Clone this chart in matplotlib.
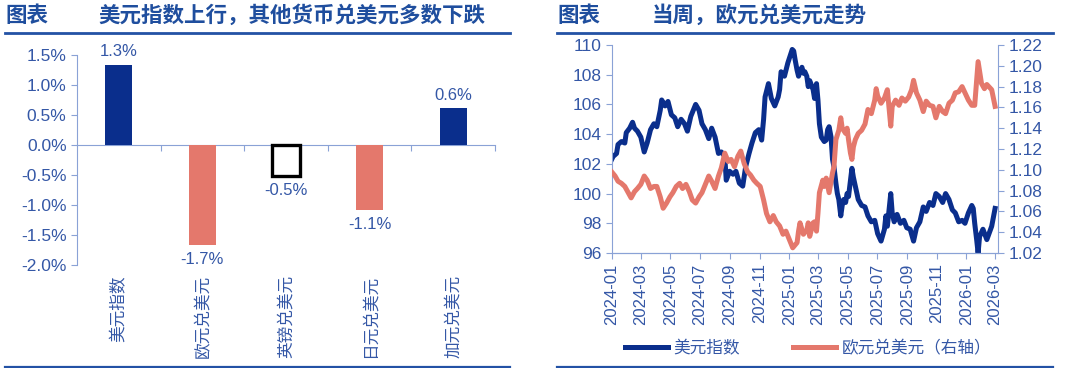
import matplotlib
matplotlib.use("Agg")
import matplotlib.pyplot as plt
import matplotlib.dates as mdates
from matplotlib.lines import Line2D
import numpy as np
import pandas as pd

plt.rcParams['font.family'] = ['Liberation Sans', 'Noto Sans CJK SC', 'DejaVu Sans']

# ---- 数据 ----
# 左图: 当周涨跌幅 (%)
bar_names = ['美元指数', '欧元兑美元', '英镑兑美元', '日元兑美元', '加元兑美元']
bar_values = [1.34, -1.66, -0.52, -1.08, 0.61]

# 右图: 美元指数 (左轴)
dxy_dates = ['2024-01-01', '2024-01-04', '2024-01-11', '2024-01-14', '2024-01-21', '2024-01-28',
             '2024-01-31', '2024-02-07', '2024-02-13', '2024-02-17', '2024-02-23', '2024-03-01',
             '2024-03-08', '2024-03-14', '2024-03-21', '2024-03-28', '2024-04-03', '2024-04-10',
             '2024-04-13', '2024-04-20', '2024-04-26', '2024-05-03', '2024-05-10', '2024-05-16',
             '2024-05-23', '2024-05-30', '2024-06-05', '2024-06-12', '2024-06-22', '2024-06-29',
             '2024-07-05', '2024-07-12', '2024-07-19', '2024-07-25', '2024-08-01', '2024-08-08',
             '2024-08-14', '2024-08-21', '2024-08-24', '2024-08-31', '2024-09-07', '2024-09-13',
             '2024-09-20', '2024-09-27', '2024-10-03', '2024-10-10', '2024-10-16', '2024-10-23',
             '2024-10-30', '2024-11-05', '2024-11-09', '2024-11-12', '2024-11-19', '2024-11-25',
             '2024-12-02', '2024-12-09', '2024-12-12', '2024-12-15', '2024-12-22', '2024-12-29',
             '2025-01-04', '2025-01-07', '2025-01-10', '2025-01-13', '2025-01-17', '2025-01-20',
             '2025-01-23', '2025-01-27', '2025-01-30', '2025-02-02', '2025-02-06', '2025-02-09',
             '2025-02-12', '2025-02-19', '2025-02-22', '2025-02-26', '2025-03-01', '2025-03-04',
             '2025-03-08', '2025-03-14', '2025-03-18', '2025-03-21', '2025-03-24', '2025-03-28',
             '2025-03-31', '2025-04-03', '2025-04-07', '2025-04-10', '2025-04-13', '2025-04-17',
             '2025-04-20', '2025-04-23', '2025-04-27', '2025-04-30', '2025-05-03', '2025-05-07',
             '2025-05-10', '2025-05-13', '2025-05-17', '2025-05-23', '2025-05-30', '2025-06-06',
             '2025-06-12', '2025-06-19', '2025-06-26', '2025-07-02', '2025-07-09', '2025-07-16',
             '2025-07-19', '2025-07-22', '2025-07-29', '2025-08-01', '2025-08-05', '2025-08-11',
             '2025-08-18', '2025-08-25', '2025-08-31', '2025-09-07', '2025-09-14', '2025-09-20',
             '2025-09-27', '2025-10-04', '2025-10-10', '2025-10-17', '2025-10-24', '2025-10-30',
             '2025-11-06', '2025-11-13', '2025-11-19', '2025-11-26', '2025-12-03', '2025-12-09',
             '2025-12-16', '2025-12-23', '2025-12-29', '2026-01-05', '2026-01-12', '2026-01-15',
             '2026-01-18', '2026-01-22', '2026-01-25', '2026-01-28', '2026-02-04', '2026-02-12',
             '2026-02-22', '2026-03-01']
dxy_values = [102.3, 102.5, 102.7, 103.3, 103.5, 103.4,
              104.1, 104.4, 104.8, 104.4, 104.2, 103.8,
              102.8, 103.4, 104.3, 104.7, 104.5, 105.6,
              106.3, 105.9, 106.2, 105.3, 105.1, 104.5,
              105.0, 104.7, 104.2, 105.2, 106.0, 105.6,
              104.7, 104.3, 103.7, 104.4, 103.8, 102.7,
              102.8, 102.5, 100.9, 101.5, 101.3, 101.5,
              100.7, 100.5, 101.8, 102.7, 103.4, 104.1,
              104.3, 103.6, 105.0, 106.5, 107.4, 106.4,
              105.9, 106.5, 107.0, 108.2, 107.9, 108.8,
              109.4, 109.7, 109.6, 109.0, 108.3, 107.9,
              108.2, 108.5, 108.1, 108.2, 107.9, 107.2,
              107.6, 107.0, 106.4, 107.4, 106.3, 104.7,
              103.8, 103.5, 103.6, 104.3, 104.5, 103.8,
              102.3, 101.8, 100.7, 100.0, 99.6, 98.5,
              99.2, 99.6, 99.4, 100.0, 99.8, 100.9,
              101.7, 101.1, 100.5, 99.6, 99.2, 99.1,
              98.5, 98.1, 98.2, 97.3, 96.8, 97.6,
              98.5, 97.8, 100.0, 98.7, 98.1, 98.6,
              98.0, 98.2, 97.7, 97.6, 96.8, 97.7,
              98.1, 99.1, 98.8, 99.4, 99.2, 100.0,
              99.8, 99.4, 100.0, 99.6, 98.9, 98.7,
              98.1, 98.2, 98.0, 98.7, 99.2, 99.0,
              98.0, 96.9, 96.0, 97.1, 97.6, 96.9,
              97.8, 99.0]

# 右图: 欧元兑美元 (右轴)
eur_dates = ['2024-01-01', '2024-01-08', '2024-01-14', '2024-01-21', '2024-01-28', '2024-02-03',
             '2024-02-10', '2024-02-17', '2024-02-23', '2024-03-01', '2024-03-08', '2024-03-14',
             '2024-03-21', '2024-03-28', '2024-04-03', '2024-04-10', '2024-04-16', '2024-04-23',
             '2024-04-30', '2024-05-06', '2024-05-13', '2024-05-20', '2024-05-26', '2024-06-02',
             '2024-06-09', '2024-06-15', '2024-06-22', '2024-06-29', '2024-07-05', '2024-07-12',
             '2024-07-19', '2024-07-25', '2024-08-01', '2024-08-08', '2024-08-14', '2024-08-21',
             '2024-08-28', '2024-09-03', '2024-09-10', '2024-09-17', '2024-09-23', '2024-09-30',
             '2024-10-07', '2024-10-13', '2024-10-20', '2024-10-26', '2024-11-02', '2024-11-09',
             '2024-11-15', '2024-11-22', '2024-11-29', '2024-12-05', '2024-12-12', '2024-12-19',
             '2024-12-25', '2025-01-01', '2025-01-08', '2025-01-17', '2025-01-20', '2025-01-23',
             '2025-01-30', '2025-02-06', '2025-02-09', '2025-02-12', '2025-02-19', '2025-02-22',
             '2025-02-26', '2025-03-01', '2025-03-04', '2025-03-11', '2025-03-14', '2025-03-18',
             '2025-03-24', '2025-03-31', '2025-04-03', '2025-04-07', '2025-04-13', '2025-04-17',
             '2025-04-20', '2025-04-27', '2025-04-30', '2025-05-03', '2025-05-07', '2025-05-10',
             '2025-05-13', '2025-05-17', '2025-05-23', '2025-05-30', '2025-06-06', '2025-06-12',
             '2025-06-19', '2025-06-26', '2025-06-29', '2025-07-02', '2025-07-09', '2025-07-16',
             '2025-07-22', '2025-07-29', '2025-08-01', '2025-08-08', '2025-08-15', '2025-08-21',
             '2025-08-28', '2025-09-04', '2025-09-10', '2025-09-14', '2025-09-20', '2025-09-27',
             '2025-10-04', '2025-10-10', '2025-10-17', '2025-10-24', '2025-10-30', '2025-11-06',
             '2025-11-13', '2025-11-19', '2025-11-26', '2025-12-03', '2025-12-09', '2025-12-16',
             '2025-12-23', '2025-12-29', '2026-01-05', '2026-01-12', '2026-01-18', '2026-01-22',
             '2026-01-25', '2026-02-01', '2026-02-07', '2026-02-12', '2026-02-22', '2026-03-01']
eur_values = [1.098, 1.094, 1.089, 1.087, 1.084, 1.079,
              1.073, 1.079, 1.082, 1.086, 1.094, 1.090,
              1.082, 1.084, 1.084, 1.074, 1.063, 1.068,
              1.074, 1.078, 1.084, 1.087, 1.082, 1.086,
              1.079, 1.071, 1.068, 1.074, 1.078, 1.086,
              1.094, 1.089, 1.082, 1.094, 1.102, 1.116,
              1.108, 1.110, 1.103, 1.113, 1.118, 1.106,
              1.098, 1.095, 1.090, 1.087, 1.084, 1.071,
              1.058, 1.050, 1.056, 1.050, 1.046, 1.038,
              1.041, 1.033, 1.025, 1.030, 1.041, 1.049,
              1.038, 1.042, 1.049, 1.036, 1.049, 1.050,
              1.041, 1.058, 1.078, 1.090, 1.084, 1.092,
              1.078, 1.097, 1.103, 1.129, 1.138, 1.150,
              1.140, 1.135, 1.140, 1.129, 1.116, 1.110,
              1.122, 1.129, 1.135, 1.138, 1.144, 1.158,
              1.154, 1.167, 1.178, 1.171, 1.164, 1.169,
              1.177, 1.142, 1.161, 1.167, 1.162, 1.169,
              1.166, 1.170, 1.177, 1.186, 1.174, 1.167,
              1.156, 1.166, 1.162, 1.161, 1.150, 1.161,
              1.156, 1.154, 1.164, 1.167, 1.174, 1.175,
              1.180, 1.174, 1.167, 1.162, 1.162, 1.186,
              1.204, 1.183, 1.178, 1.182, 1.177, 1.161]

# ---- 样式 ----
navy = '#0A2E8C'
salmon = '#E4786C'
title_c = '#1F4E9E'
text_c = '#3457A6'
spine_c = '#8AA2D6'

fig = plt.figure(figsize=(10.8, 3.68), dpi=100)

# 标题和分隔线
fig.text(5 / 1080, 1 - 16 / 368, '图表', fontsize=15.5, fontweight='bold', color=title_c, va='center')
fig.text(98 / 1080, 1 - 16 / 368, '美元指数上行，其他货币兑美元多数下跌', fontsize=15.5,
         fontweight='bold', color=title_c, va='center')
fig.text(557 / 1080, 1 - 16 / 368, '图表', fontsize=15.5, fontweight='bold', color=title_c, va='center')
fig.text(652 / 1080, 1 - 16 / 368, '当周，欧元兑美元走势', fontsize=15.5,
         fontweight='bold', color=title_c, va='center')
for x0, x1 in [(5, 510), (557, 1053)]:
    for yy, lw in [(32.5, 2.0), (366.5, 1.6)]:
        fig.add_artist(Line2D([x0 / 1080, x1 / 1080], [1 - yy / 368, 1 - yy / 368],
                              color='#2352A5', lw=lw))

# ---- 左图: 柱状图 ----
ax = fig.add_axes([77 / 1080, 1 - 265 / 368, (495 - 77) / 1080, 210 / 368])
xpos = np.arange(len(bar_names))
colors = [navy if v > 0 else salmon for v in bar_values]
bars = ax.bar(xpos, bar_values, width=0.32, color=colors, zorder=3)
# 英镑兑美元为空心黑框
bars[2].set_facecolor('white')
bars[2].set_edgecolor('black')
bars[2].set_linewidth(2.4)
bars[2].set_width(0.34)
bars[2].set_x(2 - 0.17)

for x, v in zip(xpos, bar_values):
    ax.annotate(f'{v:.1f}%', (x, v), xytext=(0, 4 if v > 0 else -5), textcoords='offset points',
                ha='center', va='bottom' if v > 0 else 'top', fontsize=12, color=text_c)

ax.set_xlim(-0.5, 4.5)
ax.set_ylim(-2.0, 1.5)
yt = np.arange(-2.0, 1.51, 0.5)
ax.set_yticks(yt)
ax.set_yticklabels([f'{t:.1f}%' for t in yt])
for s in ['top', 'right']:
    ax.spines[s].set_visible(False)
ax.spines['bottom'].set_position(('data', 0))
ax.spines['left'].set_color(spine_c)
ax.spines['bottom'].set_color(spine_c)
ax.tick_params(axis='y', colors=spine_c, labelcolor=text_c, labelsize=12.5, length=4, direction='out')
ax.set_xticks(np.arange(0.5, 5, 1.0))
ax.set_xticklabels([])
ax.tick_params(axis='x', colors=spine_c, length=4, direction='out')
for x, name in zip(xpos, bar_names):
    ax.text(x, -2.17, name, rotation=90, ha='center', va='top', fontsize=12, color=text_c)

# ---- 右图: 走势 ----
ax1 = fig.add_axes([611.7 / 1080, 1 - 253 / 368, (998 - 611.7) / 1080, 208 / 368])
ax2 = ax1.twinx()
ax1.plot(pd.to_datetime(dxy_dates), dxy_values, color=navy, lw=3.6, label='美元指数',
         solid_joinstyle='round')
ax2.plot(pd.to_datetime(eur_dates), eur_values, color=salmon, lw=3.6, label='欧元兑美元（右轴）',
         solid_joinstyle='round')

ax1.set_xlim(pd.Timestamp('2024-01-01'), pd.Timestamp('2026-03-07'))
ax1.set_ylim(96, 110)
ax1.set_yticks(np.arange(96, 111, 2))
ax2.set_ylim(1.02, 1.22)
rt = np.arange(1.02, 1.2201, 0.02)
ax2.set_yticks(rt)
ax2.set_yticklabels([f'{t:.2f}' for t in rt])
ax1.set_xticks(pd.date_range('2024-01-01', '2026-03-01', freq='2MS'))
ax1.xaxis.set_major_formatter(mdates.DateFormatter('%Y-%m'))
for a in (ax1, ax2):
    a.spines['top'].set_visible(False)
    for s in ['left', 'right', 'bottom']:
        a.spines[s].set_color(spine_c)
    a.tick_params(colors=spine_c, labelcolor=text_c, labelsize=12.5, length=4, direction='out')
ax1.spines['right'].set_visible(False)
ax2.spines['left'].set_visible(False)
ax1.tick_params(axis='x', labelrotation=90, labelsize=12)

h1, l1 = ax1.get_legend_handles_labels()
h2, l2 = ax2.get_legend_handles_labels()
fig.legend(h1 + h2, l1 + l2, loc='center', bbox_to_anchor=(808 / 1080, 1 - 348 / 368), ncol=2,
           frameon=False, fontsize=12, handlelength=2.6, columnspacing=3.2, handletextpad=0.3,
           labelcolor=text_c)

fig.savefig('out.png', dpi=100)
